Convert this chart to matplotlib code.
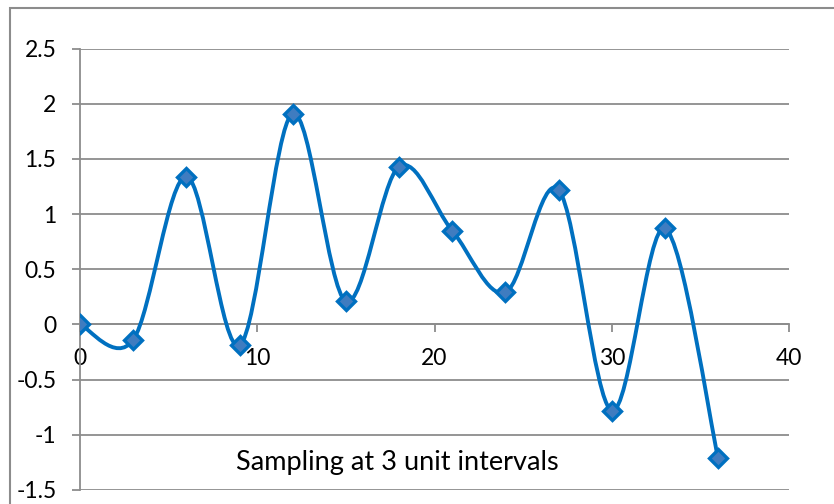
import numpy as np
import matplotlib
matplotlib.use("Agg")
import matplotlib.pyplot as plt
from matplotlib.path import Path
from matplotlib.patches import PathPatch, Rectangle

# Sample positions and values
x_vals = [0, 3, 6, 9, 12, 15, 18, 21, 24, 27, 30, 33, 36]
y_vals = [0, -0.14, 1.34, -0.19, 1.91, 0.21, 1.43, 0.85, 0.29, 1.22, -0.78, 0.87, -1.21]
x_ticks = [0, 10, 20, 30, 40]
y_ticks = [-1.5, -1, -0.5, 0, 0.5, 1, 1.5, 2, 2.5]
y_tick_labels = ["-1.5", "-1", "-0.5", "0", "0.5", "1", "1.5", "2", "2.5"]
note = "Sampling at 3 unit intervals"

plt.rcParams["font.family"] = ["Lato", "DejaVu Sans"]

line_color = "#0070C0"
grid_color = "#8C8C8C"

fig = plt.figure(figsize=(8.34, 5.04), dpi=100)
ax = fig.add_axes([80 / 834, 14 / 504, 709 / 834, 441.5 / 504])

# outer chart border (runs past the right and bottom edges)
fig.patches.append(Rectangle((10 / 834, -0.05), 1.0, 496 / 504 + 0.05,
                             transform=fig.transFigure, fill=False,
                             edgecolor=grid_color, linewidth=1.5))

# smooth curve: Catmull-Rom style Bezier through the points
pts = np.column_stack([x_vals, y_vals]).astype(float)
padded = np.vstack([pts[0], pts, pts[-1]])
verts = [tuple(pts[0])]
codes = [Path.MOVETO]
for i in range(len(pts) - 1):
    p0, p1, p2, p3 = padded[i], padded[i + 1], padded[i + 2], padded[i + 3]
    c1 = p1 + (p2 - p0) / 6.0
    c2 = p2 - (p3 - p1) / 6.0
    verts += [tuple(c1), tuple(c2), tuple(p2)]
    codes += [Path.CURVE4] * 3
ax.add_patch(PathPatch(Path(verts, codes), facecolor="none",
                       edgecolor=line_color, linewidth=2.8, zorder=3,
                       capstyle="round", joinstyle="round"))

ax.plot(x_vals, y_vals, linestyle="none", marker="D", markersize=9.5,
        markerfacecolor="#3F7CC0", markeredgecolor=line_color,
        markeredgewidth=2.4, zorder=4)

ax.set_xlim(0, 40)
ax.set_ylim(-1.5, 2.5)
ax.set_xticks(x_ticks)
ax.set_yticks(y_ticks)
ax.set_yticklabels(y_tick_labels)

ax.yaxis.grid(True, color=grid_color, linewidth=1.3)
ax.set_axisbelow(True)

for side in ["top", "right"]:
    ax.spines[side].set_visible(False)
ax.spines["bottom"].set_position(("data", 0))
ax.spines["bottom"].set_color(grid_color)
ax.spines["bottom"].set_linewidth(1.3)
ax.spines["left"].set_color(grid_color)
ax.spines["left"].set_linewidth(1.3)

ax.tick_params(axis="both", direction="out", length=6, width=1.3,
               color=grid_color, labelsize=16.5, labelcolor="black")
ax.tick_params(axis="y", pad=11)
ax.tick_params(axis="x", pad=11)

ax.text(17.9, -1.255, note, fontsize=19.5, ha="center", va="center")

fig.savefig("out.png", dpi=100)
